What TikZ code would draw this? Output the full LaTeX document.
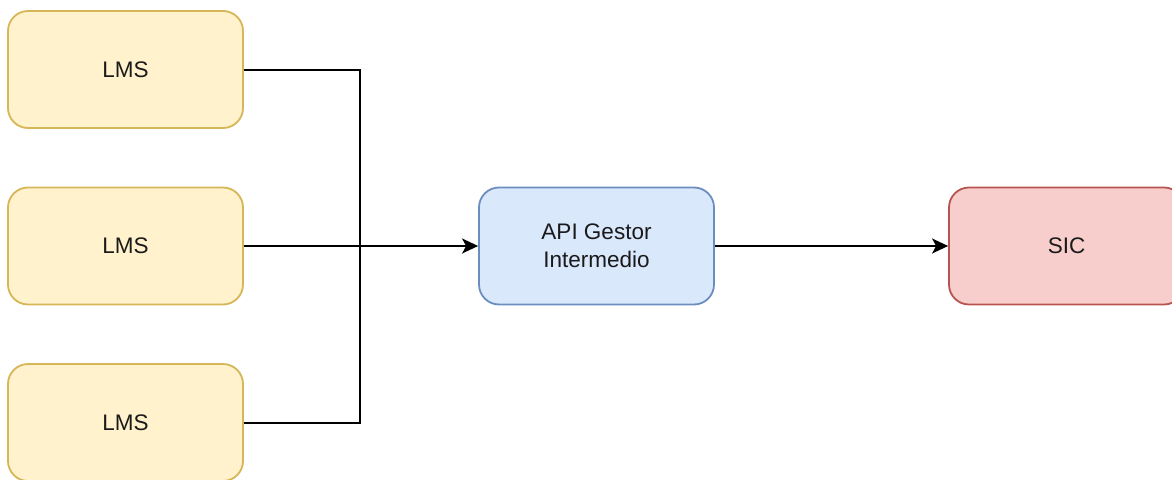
\documentclass[tikz,border=0pt]{standalone}
\usepackage{fontspec}
\setmainfont{Liberation Sans}
\usetikzlibrary{arrows.meta}
\definecolor{lmsfill}{HTML}{FFF2CC}
\definecolor{lmsline}{HTML}{D6B656}
\definecolor{apifill}{HTML}{DAE8FC}
\definecolor{apiline}{HTML}{6C8EBF}
\definecolor{sicfill}{HTML}{F8CECC}
\definecolor{sicline}{HTML}{B85450}
\definecolor{txt}{HTML}{1A1A1A}
\tikzset{
  box/.style={rounded corners=20pt, line width=1.8pt, minimum width=235pt, minimum height=117pt, inner sep=0pt, text=txt, align=center, font=\fontsize{22.5}{27.5}\selectfont},
  lms/.style={box, draw=lmsline, fill=lmsfill},
  api/.style={box, draw=apiline, fill=apifill},
  sic/.style={box, draw=sicline, fill=sicfill},
  conn/.style={line width=2pt, black},
  arr/.style={conn, -{Triangle[length=16pt, width=15pt, inset=4pt]}, shorten >=0pt}
}
\begin{document}
\begin{tikzpicture}[x=1pt, y=-1pt]
\useasboundingbox (0,0) rectangle (1172,479);
\clip (0,0) rectangle (1172,479);
\node[lms] (l1) at (125.5,69.5) {LMS};
\node[lms] (l2) at (125.5,246) {LMS};
\node[lms] (l3) at (125.5,422.5) {LMS};
\node[api] (api) at (596.5,246) {API Gestor\\Intermedio};
\node[sic] (sic) at (1066.5,246) {SIC};
\coordinate (j) at (360,246);
\draw[conn] (l1.east) -| (j);
\draw[conn] (l3.east) -| (j);
\draw[arr] (l2.east) -- (api.west);
\draw[arr] (api.east) -- (sic.west);
\end{tikzpicture}
\end{document}
